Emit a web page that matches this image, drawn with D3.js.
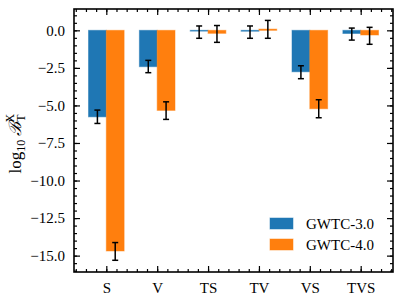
<!DOCTYPE html>
<html>
<head>
<meta charset="utf-8">
<script src="https://cdn.jsdelivr.net/npm/d3@7"></script>
<style>
  html, body { margin: 0; padding: 0; background: #fff; }
  svg { display: block; }
  svg text { font-family: "Liberation Serif", "Times New Roman", Times, "DejaVu Serif", serif !important; fill: #000; }
</style>
</head>
<body>
<svg id="chart" width="400" height="298"></svg>
<script>
// chart data
const categories = ['S', 'V', 'TS', 'TV', 'VS', 'TVS'];
const seriesNames = ['GWTC-3.0', 'GWTC-4.0'];
const gwtc3 = [-5.76, -2.42, -0.05, -0.06, -2.76, -0.21];
const gwtc3Lo = [-6.2, -2.82, -0.53, -0.53, -3.22, -0.65];
const gwtc3Hi = [-5.31, -2.0, 0.29, 0.29, -2.36, 0.15];
const gwtc4 = [-14.69, -5.33, -0.2, 0.08, -5.22, -0.31];
const gwtc4Lo = [-15.31, -5.93, -0.8, -0.53, -5.82, -0.93];
const gwtc4Hi = [-14.13, -4.76, 0.32, 0.66, -4.62, 0.2];
const yTicks = [0, -2.5, -5, -7.5, -10, -12.5, -15];

const colors = ['#1f77b4', '#ff7f0e'];
const barW = 0.35;

const svg = d3.select('#chart');
const mLeft = 74, mRight = 393, mTop = 9, mBottom = 272;

const x = d3.scaleLinear().domain([-0.635, 5.635]).range([mLeft, mRight]);
const y = d3.scaleLinear().domain([-16.09, 1.42]).range([mBottom, mTop]);

const series = [
  { vals: gwtc3, lo: gwtc3Lo, hi: gwtc3Hi, off: -barW },
  { vals: gwtc4, lo: gwtc4Lo, hi: gwtc4Hi, off: 0 }
];

// bars
series.forEach((s, k) => {
  svg.append('g').selectAll('rect')
    .data(s.vals)
    .join('rect')
    .attr('x', (d, i) => x(i + s.off))
    .attr('width', x(barW) - x(0))
    .attr('y', d => Math.min(y(d), y(0)))
    .attr('height', d => Math.max(Math.abs(y(d) - y(0)), 0.8))
    .attr('fill', colors[k])
    .attr('stroke', colors[k])
    .attr('stroke-opacity', 0.5)
    .attr('stroke-width', 1);
});

// error bars
series.forEach((s) => {
  const g = svg.append('g').attr('stroke', '#000').attr('stroke-width', 1.5);
  s.vals.forEach((d, i) => {
    const cx = x(i + s.off + barW / 2);
    g.append('line').attr('x1', cx).attr('x2', cx).attr('y1', y(s.lo[i])).attr('y2', y(s.hi[i]));
    [s.lo[i], s.hi[i]].forEach(v => {
      g.append('line').attr('x1', cx - 3).attr('x2', cx + 3).attr('y1', y(v)).attr('y2', y(v));
    });
  });
});

// axes, ticks inward on all four sides
const fmt = d3.format('.1f');
const yMinor = d3.range(1.0, -16.01, -0.5);
const xMinor = d3.range(-0.6, 5.61, 0.2);

svg.append('g').attr('transform', `translate(${mLeft},0)`)
  .call(d3.axisLeft(y).tickValues(yMinor).tickSize(-3).tickFormat(''));
svg.append('g').attr('transform', `translate(${mRight},0)`)
  .call(d3.axisRight(y).tickValues(yMinor).tickSize(-3).tickFormat(''));
svg.append('g').attr('transform', `translate(${mLeft},0)`)
  .call(d3.axisLeft(y).tickValues(yTicks).tickSize(-6).tickPadding(9).tickFormat(fmt));
svg.append('g').attr('transform', `translate(${mRight},0)`)
  .call(d3.axisRight(y).tickValues(yTicks).tickSize(-6).tickFormat(''));

svg.append('g').attr('transform', `translate(0,${mBottom})`)
  .call(d3.axisBottom(x).tickValues(xMinor).tickSize(-3).tickFormat(''));
svg.append('g').attr('transform', `translate(0,${mTop})`)
  .call(d3.axisTop(x).tickValues(xMinor).tickSize(-3).tickFormat(''));
svg.append('g').attr('transform', `translate(0,${mBottom})`)
  .call(d3.axisBottom(x).tickValues(d3.range(categories.length)).tickSize(-6).tickPadding(10)
    .tickFormat(i => categories[i]));
svg.append('g').attr('transform', `translate(0,${mTop})`)
  .call(d3.axisTop(x).tickValues(d3.range(categories.length)).tickSize(-6).tickFormat(''));

svg.selectAll('.domain').remove();
svg.selectAll('g').attr('font-family', null);
svg.selectAll('.tick line').attr('stroke', '#000').attr('stroke-width', 1.2);
svg.selectAll('.tick text').attr('font-size', 15);

svg.append('rect')
  .attr('x', mLeft).attr('y', mTop)
  .attr('width', mRight - mLeft).attr('height', mBottom - mTop)
  .attr('fill', 'none').attr('stroke', '#000').attr('stroke-width', 1.6);

// y label: log10 B^X_T
const yl = svg.append('g').attr('transform', 'translate(21,140) rotate(-90)');
const lab = yl.append('text').attr('font-size', 17);
lab.append('tspan').text('log');
lab.append('tspan').attr('font-size', 12).attr('dy', 4).text('10');
lab.append('tspan').attr('dy', -4).text('\u2009');
lab.append('tspan').attr('font-style', 'italic').text('\u212C');
lab.append('tspan').attr('font-size', 12).attr('dy', -7).text('X');
lab.append('tspan').attr('font-size', 12).attr('dy', 11).attr('dx', -8).text('T');
const w = lab.node().getComputedTextLength();
lab.attr('x', -w / 2);

// legend
const lg = svg.append('g').attr('transform', 'translate(270,218)');
seriesNames.forEach((n, k) => {
  lg.append('rect').attr('x', 0).attr('y', k * 21).attr('width', 23).attr('height', 11)
    .attr('fill', colors[k]).attr('stroke', colors[k]).attr('stroke-opacity', 0.5);
  lg.append('text').attr('x', 36).attr('y', k * 21 + 11).attr('font-size', 15).text(n);
});
</script>
</body>
</html>
